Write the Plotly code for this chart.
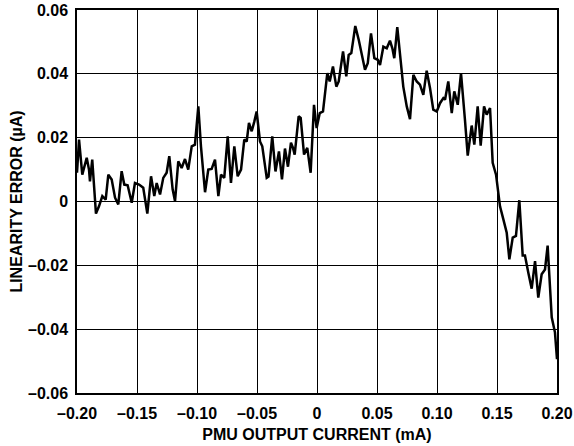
import plotly.graph_objects as go

# PMU output current (mA) and linearity error (µA)
current_ma = [
    -0.2000, -0.1983, -0.1956, -0.1919, -0.1900, -0.1892, -0.1873, -0.1842, -0.1817, -0.1789,
    -0.1761, -0.1739, -0.1711, -0.1683, -0.1656, -0.1628, -0.1606, -0.1578, -0.1544, -0.1517,
    -0.1483, -0.1448, -0.1414, -0.1383, -0.1356, -0.1336, -0.1308, -0.1281, -0.1253, -0.1231,
    -0.1203, -0.1183, -0.1156, -0.1128, -0.1100, -0.1073, -0.1044, -0.1017, -0.0989, -0.0967,
    -0.0933, -0.0906, -0.0878, -0.0850, -0.0822, -0.0800, -0.0773, -0.0744, -0.0717, -0.0689,
    -0.0661, -0.0633, -0.0606, -0.0586, -0.0567, -0.0544, -0.0522, -0.0503, -0.0475, -0.0456,
    -0.0419, -0.0404, -0.0373, -0.0346, -0.0317, -0.0292, -0.0267, -0.0242, -0.0217, -0.0200,
    -0.0186, -0.0153, -0.0136, -0.0108, -0.0081, -0.0053, -0.0025, -0.0003, 0.0023, 0.0050,
    0.0086, 0.0106, 0.0133, 0.0161, 0.0181, 0.0217, 0.0244, 0.0264, 0.0286, 0.0319,
    0.0348, 0.0400, 0.0423, 0.0450, 0.0478, 0.0506, 0.0525, 0.0553, 0.0581, 0.0608,
    0.0628, 0.0644, 0.0669, 0.0692, 0.0719, 0.0748, 0.0775, 0.0803, 0.0831, 0.0858,
    0.0886, 0.0914, 0.0942, 0.0969, 0.0998, 0.1025, 0.1053, 0.1067, 0.1094, 0.1123,
    0.1144, 0.1173, 0.1200, 0.1233, 0.1256, 0.1289, 0.1311, 0.1339, 0.1364, 0.1392,
    0.1414, 0.1442, 0.1464, 0.1492, 0.1525, 0.1553, 0.1581, 0.1603, 0.1631, 0.1658,
    0.1686, 0.1714, 0.1733, 0.1761, 0.1789, 0.1817, 0.1844, 0.1872, 0.1900, 0.1922,
    0.1956, 0.1983, 0.2000,
]

linearity_error_ua = [
    0.0090, 0.0194, 0.0084, 0.0137, 0.0100, 0.0063, 0.0131, -0.0038, -0.0015, 0.0017,
    0.0006, 0.0084, 0.0069, 0.0012, -0.0009, 0.0095, 0.0053, 0.0051, -0.0004, 0.0058,
    0.0053, 0.0043, -0.0038, 0.0079, 0.0017, 0.0058, 0.0022, 0.0074, 0.0090, 0.0142,
    0.0038, 0.0001, 0.0126, 0.0105, 0.0133, 0.0100, 0.0173, 0.0178, 0.0298, 0.0173,
    0.0029, 0.0100, 0.0102, 0.0131, 0.0017, 0.0084, 0.0074, 0.0204, 0.0058, 0.0173,
    0.0079, 0.0100, 0.0194, 0.0188, 0.0246, 0.0220, 0.0251, 0.0282, 0.0188, 0.0173,
    0.0074, 0.0078, 0.0204, 0.0094, 0.0157, 0.0069, 0.0166, 0.0109, 0.0184, 0.0168,
    0.0147, 0.0267, 0.0262, 0.0147, 0.0168, 0.0090, 0.0303, 0.0230, 0.0277, 0.0282,
    0.0402, 0.0376, 0.0423, 0.0360, 0.0376, 0.0470, 0.0392, 0.0459, 0.0465, 0.0550,
    0.0506, 0.0413, 0.0433, 0.0527, 0.0449, 0.0444, 0.0428, 0.0485, 0.0480, 0.0504,
    0.0480, 0.0449, 0.0546, 0.0454, 0.0360, 0.0298, 0.0258, 0.0397, 0.0376, 0.0366,
    0.0334, 0.0410, 0.0355, 0.0288, 0.0282, 0.0308, 0.0324, 0.0319, 0.0376, 0.0277,
    0.0345, 0.0303, 0.0402, 0.0256, 0.0144, 0.0238, 0.0178, 0.0298, 0.0175, 0.0298,
    0.0272, 0.0293, 0.0121, 0.0084, -0.0015, -0.0056, -0.0098, -0.0181, -0.0113, -0.0108,
    0.0004, -0.0169, -0.0169, -0.0223, -0.0273, -0.0187, -0.0301, -0.0228, -0.0213, -0.0138,
    -0.0363, -0.0410, -0.0494,
]

x_tick_values = [-0.20, -0.15, -0.10, -0.05, 0, 0.05, 0.10, 0.15, 0.20]
x_tick_labels = ["–0.20", "–0.15", "–0.10", "–0.05", "0", "0.05", "0.10", "0.15", "0.20"]
y_tick_values = [-0.06, -0.04, -0.02, 0, 0.02, 0.04, 0.06]
y_tick_labels = ["–0.06", "–0.04", "–0.02", "0", "0.02", "0.04", "0.06"]

FONT = "Liberation Sans, Arial, Helvetica, sans-serif"

fig = go.Figure(
    go.Scatter(
        x=current_ma,
        y=linearity_error_ua,
        mode="lines",
        line=dict(color="black", width=2.5),
        hoverinfo="skip",
    )
)

axis_common = dict(
    automargin=False,
    showgrid=True,
    gridcolor="black",
    gridwidth=1,
    zeroline=False,
    showline=True,
    linecolor="black",
    linewidth=1.5,
    mirror=True,
    ticks="outside",
    tickcolor="rgba(0,0,0,0)",
    tickfont=dict(family=FONT, size=16, color="black", weight="bold"),
    title_font=dict(family=FONT, size=16, color="black", weight="bold"),
)

fig.update_xaxes(
    range=[-0.2, 0.2],
    tickvals=x_tick_values,
    ticktext=x_tick_labels,
    ticklen=5,
    title_text="PMU OUTPUT CURRENT (mA)",
    title_standoff=8,
    **axis_common,
)
fig.update_yaxes(
    range=[-0.06, 0.06],
    tickvals=y_tick_values,
    ticktext=y_tick_labels,
    ticklen=4,
    title_text="LINEARITY ERROR (µA)",
    title_standoff=1,
    **axis_common,
)

fig.update_layout(
    width=574,
    height=446,
    margin=dict(l=77, r=17, t=10, b=53),
    paper_bgcolor="white",
    plot_bgcolor="white",
    showlegend=False,
)

fig.write_html("out.html")
